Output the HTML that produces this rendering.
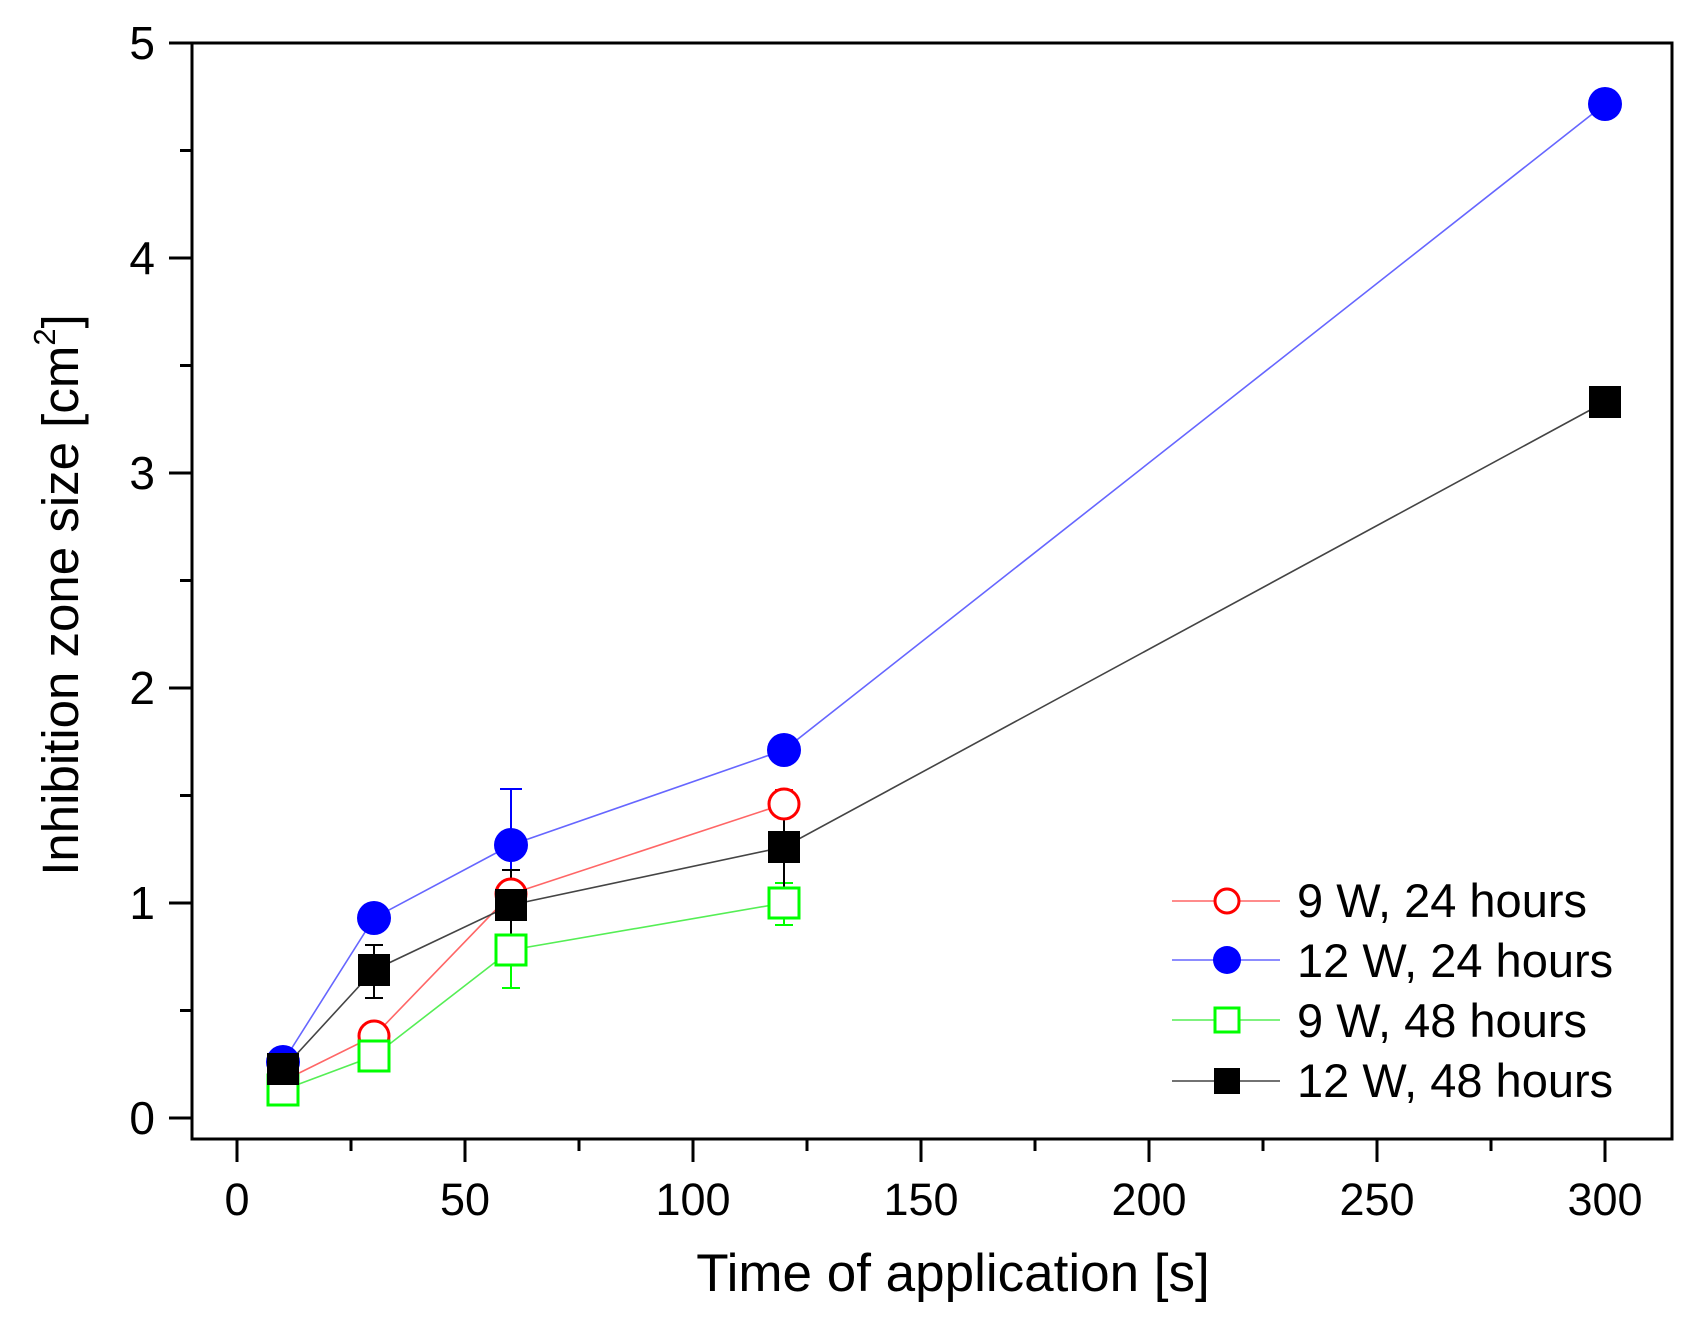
<!DOCTYPE html>
<html><head><meta charset="utf-8"><style>
html,body{margin:0;padding:0;background:#fff;}
svg{display:block;font-family:"Liberation Sans",Arial,sans-serif;}
</style></head><body>
<svg width="1693" height="1322" viewBox="0 0 1693 1322" xmlns="http://www.w3.org/2000/svg">
<rect width="1693" height="1322" fill="#fff"/>
<rect x="192" y="43" width="1480" height="1096" fill="none" stroke="#000" stroke-width="3"/>
<g stroke="#000" stroke-width="3">
<line x1="169" y1="43" x2="192" y2="43"/><line x1="180" y1="150.5" x2="192" y2="150.5"/>
<line x1="169" y1="258" x2="192" y2="258"/><line x1="180" y1="365.5" x2="192" y2="365.5"/>
<line x1="169" y1="473" x2="192" y2="473"/><line x1="180" y1="580.5" x2="192" y2="580.5"/>
<line x1="169" y1="688" x2="192" y2="688"/><line x1="180" y1="795.5" x2="192" y2="795.5"/>
<line x1="169" y1="903" x2="192" y2="903"/><line x1="180" y1="1010.5" x2="192" y2="1010.5"/>
<line x1="169" y1="1118" x2="192" y2="1118"/>
<line x1="237" y1="1139" x2="237" y2="1162"/><line x1="351" y1="1139" x2="351" y2="1151"/>
<line x1="465" y1="1139" x2="465" y2="1162"/><line x1="579" y1="1139" x2="579" y2="1151"/>
<line x1="693" y1="1139" x2="693" y2="1162"/><line x1="807" y1="1139" x2="807" y2="1151"/>
<line x1="921" y1="1139" x2="921" y2="1162"/><line x1="1035" y1="1139" x2="1035" y2="1151"/>
<line x1="1149" y1="1139" x2="1149" y2="1162"/><line x1="1263" y1="1139" x2="1263" y2="1151"/>
<line x1="1377" y1="1139" x2="1377" y2="1162"/><line x1="1491" y1="1139" x2="1491" y2="1151"/>
<line x1="1605" y1="1139" x2="1605" y2="1162"/>
</g>
<g font-size="46" fill="#000" text-anchor="end">
<text x="155" y="59">5</text><text x="155" y="274">4</text><text x="155" y="489">3</text>
<text x="155" y="704">2</text><text x="155" y="919">1</text><text x="155" y="1134">0</text>
</g>
<g font-size="45" fill="#000" text-anchor="middle">
<text x="237" y="1215">0</text><text x="465" y="1215">50</text><text x="693" y="1215">100</text>
<text x="921" y="1215">150</text><text x="1149" y="1215">200</text><text x="1377" y="1215">250</text>
<text x="1605" y="1215">300</text>
</g>
<text x="953" y="1291" font-size="53" text-anchor="middle">Time of application [s]</text>
<text transform="translate(78,595) rotate(-90)" font-size="51" text-anchor="middle">Inhibition zone size [cm<tspan font-size="31" dy="-23">2</tspan><tspan dy="23">]</tspan></text>

<g stroke-width="2">
<g stroke="#f00"><line x1="374" y1="1058" x2="374" y2="1030"/><line x1="365" y1="1030" x2="383" y2="1030"/>
<line x1="784" y1="817" x2="784" y2="790"/><line x1="775" y1="790" x2="793" y2="790"/></g>
<g stroke="#00f"><line x1="511" y1="845" x2="511" y2="789"/><line x1="500" y1="789" x2="522" y2="789"/>
<line x1="511" y1="845" x2="511" y2="884"/><line x1="502" y1="884" x2="520" y2="884"/></g>
<g stroke="#0f0"><line x1="511" y1="950" x2="511" y2="988"/><line x1="502" y1="988" x2="520" y2="988"/>
<line x1="784" y1="903" x2="784" y2="925"/><line x1="775" y1="925" x2="793" y2="925"/>
<line x1="784" y1="903" x2="784" y2="883"/><line x1="775" y1="883" x2="793" y2="883"/></g>
<g stroke="#000"><line x1="374" y1="970" x2="374" y2="998"/><line x1="365" y1="998" x2="383" y2="998"/>
<line x1="374" y1="970" x2="374" y2="945"/><line x1="365" y1="945" x2="383" y2="945"/>
<line x1="511" y1="905" x2="511" y2="940"/><line x1="502" y1="940" x2="520" y2="940"/>
<line x1="511" y1="905" x2="511" y2="870"/><line x1="502" y1="870" x2="520" y2="870"/>
<line x1="784" y1="847" x2="784" y2="897"/><line x1="775" y1="897" x2="793" y2="897"/>
<line x1="784" y1="847" x2="784" y2="800"/><line x1="775" y1="800" x2="793" y2="800"/></g>
</g>
<g fill="none" stroke-width="1.6">
<polyline stroke="#f66" points="283,1081 374,1036 511,894 784,804"/>
<polyline stroke="#66f" points="283,1062 374,918 511,845 784,750 1605,104"/>
<polyline stroke="#5e5" points="283,1090 374,1056 511,950 784,903"/>
<polyline stroke="#444" points="283,1069 374,970 511,905 784,847 1605,402"/>
</g>
<g fill="#fff" stroke="#f00" stroke-width="3">
<circle cx="283" cy="1081" r="15"/><circle cx="374" cy="1036" r="15"/><circle cx="511" cy="894" r="15"/><circle cx="784" cy="804" r="15"/>
</g>
<g fill="#00f">
<circle cx="283" cy="1062" r="17"/><circle cx="374" cy="918" r="17"/><circle cx="511" cy="845" r="17"/><circle cx="784" cy="750" r="17"/><circle cx="1605" cy="104" r="17"/>
</g>
<g fill="#fff" stroke="#0f0" stroke-width="3">
<rect x="268" y="1075" width="30" height="30"/><rect x="359" y="1041" width="30" height="30"/><rect x="496" y="935" width="30" height="30"/><rect x="769" y="888" width="30" height="30"/>
</g>
<g fill="#000">
<rect x="267" y="1053" width="32" height="32"/><rect x="358" y="954" width="32" height="32"/><rect x="495" y="889" width="32" height="32"/><rect x="768" y="831" width="32" height="32"/><rect x="1589" y="386" width="32" height="32"/>
</g>
<g stroke-width="1.6">
<line x1="1172" y1="901" x2="1280" y2="901" stroke="#f66"/>
<line x1="1172" y1="960" x2="1280" y2="960" stroke="#66f"/>
<line x1="1172" y1="1020" x2="1280" y2="1020" stroke="#5e5"/>
<line x1="1172" y1="1081" x2="1280" y2="1081" stroke="#444"/>
</g>
<circle cx="1227" cy="901" r="12" fill="#fff" stroke="#f00" stroke-width="3"/>
<circle cx="1227" cy="960" r="14" fill="#00f"/>
<rect x="1215" y="1008" width="24" height="24" fill="#fff" stroke="#0f0" stroke-width="3"/>
<rect x="1214" y="1068" width="26" height="26" fill="#000"/>
<g font-size="47" fill="#000">
<text x="1297" y="917">9 W, 24 hours</text>
<text x="1297" y="977">12 W, 24 hours</text>
<text x="1297" y="1037">9 W, 48 hours</text>
<text x="1297" y="1097">12 W, 48 hours</text>
</g>
</svg>
</body></html>
